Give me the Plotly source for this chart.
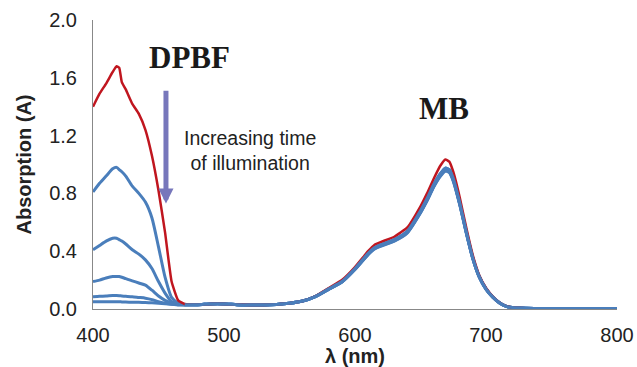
import plotly.graph_objects as go

wavelength = [400, 405, 410, 415, 418, 420, 422, 425, 430, 435,
              440, 445, 450, 455, 460, 465, 470, 480, 490, 500,
              510, 520, 530, 540, 550, 560, 570, 580, 590, 600,
              610, 615, 620, 630, 640, 650, 655, 660, 665, 669,
              672, 675, 680, 685, 690, 695, 700, 705, 710, 715,
              720, 730, 750, 800]

red_t0 = [1.40, 1.49, 1.56, 1.64, 1.68, 1.67, 1.57, 1.52, 1.42, 1.35,
          1.24, 1.06, 0.82, 0.53, 0.19, 0.06, 0.035, 0.030, 0.035, 0.035,
          0.030, 0.028, 0.028, 0.032, 0.040, 0.055, 0.090, 0.145, 0.200, 0.290,
          0.400, 0.445, 0.465, 0.500, 0.565, 0.710, 0.800, 0.900, 0.990, 1.035,
          1.020, 0.950, 0.770, 0.560, 0.370, 0.230, 0.145, 0.088, 0.047, 0.022,
          0.011, 0.006, 0.004, 0.003]

blue_t1 = [0.81, 0.87, 0.92, 0.97, 0.98, 0.965, 0.95, 0.92, 0.85, 0.80,
           0.74, 0.63, 0.43, 0.22, 0.08, 0.04, 0.030, 0.030, 0.035, 0.035,
           0.030, 0.028, 0.028, 0.032, 0.040, 0.055, 0.088, 0.140, 0.190, 0.280,
           0.385, 0.425, 0.445, 0.480, 0.540, 0.680, 0.765, 0.860, 0.935, 0.975,
           0.965, 0.905, 0.735, 0.535, 0.352, 0.222, 0.140, 0.085, 0.045, 0.020,
           0.010, 0.005, 0.003, 0.003]

blue_t2 = [0.41, 0.44, 0.47, 0.49, 0.49, 0.48, 0.47, 0.45, 0.41, 0.38,
           0.34, 0.28, 0.19, 0.11, 0.05, 0.035, 0.030, 0.030, 0.035, 0.035,
           0.030, 0.028, 0.028, 0.032, 0.040, 0.055, 0.088, 0.139, 0.189, 0.278,
           0.382, 0.422, 0.442, 0.477, 0.536, 0.675, 0.760, 0.855, 0.930, 0.968,
           0.958, 0.898, 0.730, 0.530, 0.350, 0.220, 0.139, 0.084, 0.045, 0.020,
           0.010, 0.005, 0.003, 0.003]

blue_t3 = [0.19, 0.20, 0.215, 0.225, 0.225, 0.225, 0.22, 0.21, 0.195, 0.18,
           0.165, 0.13, 0.09, 0.06, 0.04, 0.03, 0.030, 0.030, 0.035, 0.035,
           0.030, 0.028, 0.028, 0.032, 0.040, 0.055, 0.087, 0.138, 0.188, 0.276,
           0.380, 0.420, 0.440, 0.474, 0.533, 0.671, 0.755, 0.850, 0.924, 0.962,
           0.952, 0.893, 0.726, 0.528, 0.348, 0.219, 0.138, 0.084, 0.045, 0.020,
           0.010, 0.005, 0.003, 0.003]

blue_t4 = [0.085, 0.088, 0.090, 0.093, 0.093, 0.092, 0.090, 0.088, 0.085, 0.080,
           0.075, 0.065, 0.050, 0.040, 0.033, 0.030, 0.030, 0.030, 0.035, 0.035,
           0.030, 0.028, 0.028, 0.032, 0.040, 0.055, 0.087, 0.137, 0.187, 0.275,
           0.378, 0.418, 0.438, 0.472, 0.530, 0.668, 0.752, 0.846, 0.920, 0.958,
           0.948, 0.890, 0.723, 0.526, 0.347, 0.218, 0.137, 0.083, 0.044, 0.020,
           0.010, 0.005, 0.003, 0.003]

blue_t5 = [0.050, 0.050, 0.050, 0.050, 0.050, 0.050, 0.049, 0.048, 0.047, 0.046,
           0.045, 0.043, 0.040, 0.037, 0.033, 0.030, 0.030, 0.030, 0.035, 0.035,
           0.030, 0.028, 0.028, 0.032, 0.040, 0.055, 0.086, 0.136, 0.186, 0.273,
           0.376, 0.416, 0.436, 0.470, 0.527, 0.665, 0.748, 0.842, 0.916, 0.953,
           0.943, 0.885, 0.720, 0.524, 0.345, 0.217, 0.136, 0.083, 0.044, 0.020,
           0.010, 0.005, 0.003, 0.003]

blue_series = [blue_t5, blue_t4, blue_t3, blue_t2, blue_t1]

y_ticks = [0.0, 0.4, 0.8, 1.2, 1.6, 2.0]
x_ticks = [400, 500, 600, 700, 800]

BLUE = "#4A7EBB"
RED = "#C0161F"
TXT = "#222222"

fig = go.Figure()
for s in blue_series:
    fig.add_trace(go.Scatter(x=wavelength, y=s, mode="lines",
                             line=dict(color=BLUE, width=3, shape="spline", smoothing=0.6),
                             showlegend=False, hoverinfo="skip"))
fig.add_trace(go.Scatter(x=wavelength, y=red_t0, mode="lines",
                         line=dict(color=RED, width=2.5, shape="spline", smoothing=0.4),
                         showlegend=False, hoverinfo="skip"))
fig.add_trace(go.Scatter(x=wavelength[16:], y=blue_t1[16:], mode="lines",
                         line=dict(color=BLUE, width=3, shape="spline", smoothing=0.6),
                         showlegend=False, hoverinfo="skip"))

fig.add_annotation(x=455.7, y=0.73, ax=455.7, ay=1.52, xref="x", yref="y",
                   axref="x", ayref="y", showarrow=True, arrowhead=2,
                   arrowsize=0.6, arrowwidth=5, arrowcolor="#7777BB", text="")
fig.add_annotation(x=474, y=1.74, xref="x", yref="y", showarrow=False,
                   text="<b>DPBF</b>",
                   font=dict(family="Liberation Serif", size=31, color="#1a1a1a"))
fig.add_annotation(x=668, y=1.39, xref="x", yref="y", showarrow=False,
                   text="<b>MB</b>",
                   font=dict(family="Liberation Serif", size=31, color="#1a1a1a"))
fig.add_annotation(x=520, y=1.10, xref="x", yref="y", showarrow=False,
                   text="Increasing time<br>of illumination", align="center",
                   font=dict(family="Liberation Sans", size=19.5, color=TXT))

fig.update_layout(
    width=637, height=367,
    margin=dict(l=93, r=20, t=20, b=58),
    paper_bgcolor="white", plot_bgcolor="white",
    font=dict(family="Liberation Sans", color=TXT),
    xaxis=dict(range=[400, 800], tickvals=x_ticks, ticktext=[str(v) for v in x_ticks],
               showgrid=False, zeroline=False, showline=True, linecolor="#888888",
               linewidth=1, ticks="", tickfont=dict(size=20, color=TXT),
               ticklabelstandoff=8, automargin=False,
               title=dict(text="<b>λ (nm)</b>", font=dict(size=20, color=TXT), standoff=0)),
    yaxis=dict(range=[0, 2.0], tickvals=y_ticks, ticktext=[f"{v:.1f}" for v in y_ticks],
               showgrid=False, zeroline=False, showline=True, linecolor="#888888",
               linewidth=1, ticks="", tickfont=dict(size=20, color=TXT),
               ticklabelstandoff=11, automargin=False,
               title=dict(text="<b>Absorption (A)</b>", font=dict(size=20, color=TXT), standoff=12)),
)

fig.write_html("out.html")
